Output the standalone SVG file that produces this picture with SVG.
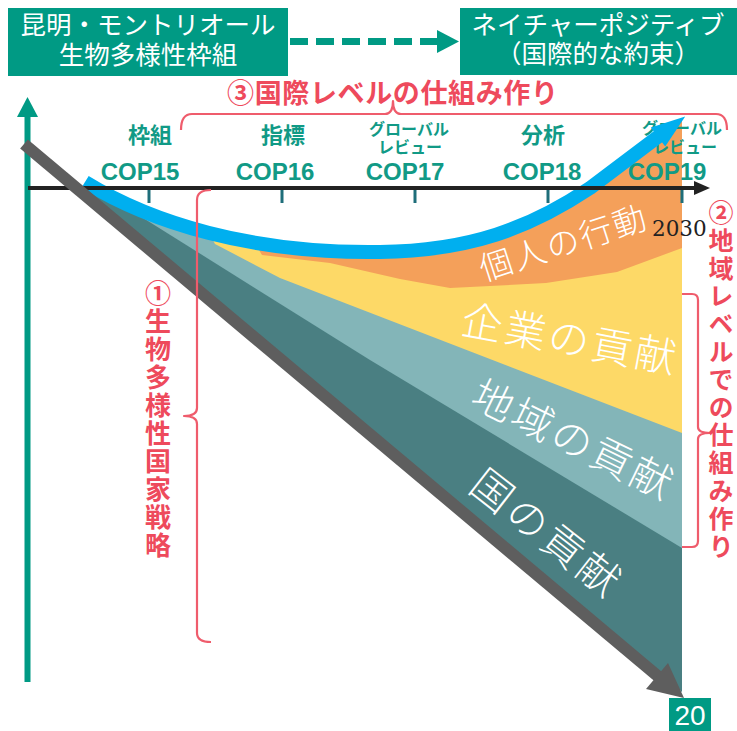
<svg xmlns="http://www.w3.org/2000/svg" width="737" height="731" viewBox="0 0 737 731">
<style>
.box{fill:#009A84}
.boxt{font-family:"Noto Sans CJK JP","Noto Sans",sans-serif;font-size:25.5px;fill:#fff;text-anchor:middle}
.lab{font-family:"Noto Sans CJK JP","Noto Sans",sans-serif;font-weight:700;fill:#119A86;text-anchor:middle}
.cop{font-family:"Liberation Sans","Noto Sans",sans-serif;font-weight:700;font-size:24px;fill:#119A86;text-anchor:middle}
.red{font-family:"Noto Sans CJK JP",sans-serif;font-weight:700;fill:#EE4A5C}
.brace{fill:none;stroke:#EF5C6C;stroke-width:2.2;stroke-linejoin:round}
.tick{stroke:#1F6E7A;stroke-width:3}
.band{font-family:"Noto Sans CJK JP",sans-serif;font-weight:300;fill:#fff;text-anchor:middle;dominant-baseline:central}
</style>
<defs>
<clipPath id="env">
<path d="M85,182 C150,222 250,254 380,252 C470,251 530,228 590,188 L660,135 L682,118 L682,692 L84,191 Z"/>
</clipPath>
</defs>

<g id="chart-areas" clip-path="url(#env)">
<rect x="0" y="0" width="737" height="731" fill="#4A7F82"/>
<polygon fill="#83B5B8" points="0,0 737,0 737,548 682,548 370,360 92,186 40,120"/>
<polygon fill="#FDD967" points="0,0 737,0 737,433 682,433 280,278 215,244 200,215 40,60"/>
<polygon fill="#F4A05A" points="0,0 737,0 737,248 682,248 617,272 546,283 450,288 400,279 330,263 262,255 250,235 40,40"/>
</g>

<g id="band-labels">
<text class="band" font-size="33" letter-spacing="2" transform="translate(563,241) rotate(-18)">個人の行動</text>
<text class="band" font-size="41" letter-spacing="3" transform="translate(571,336) rotate(10.6)">企業の貢献</text>
<text class="band" font-size="41" letter-spacing="3" transform="translate(575,437) rotate(26)">地域の貢献</text>
<text class="band" font-size="41" letter-spacing="4" transform="translate(549,531) rotate(38)">国の貢献</text>
</g>

<g id="top-left-box">
<rect class="box" x="8" y="8" width="280" height="68"/>
<text class="boxt" x="148" y="34">昆明・モントリオール</text>
<text class="boxt" x="148" y="64">生物多様性枠組</text>
</g>

<g id="top-right-box">
<rect class="box" x="460" y="8" width="277" height="67"/>
<text class="boxt" x="598" y="34">ネイチャーポジティブ</text>
<text class="boxt" x="598" y="63">（国際的な約束）</text>
</g>

<g id="connectors">
<line x1="290" y1="41.5" x2="437" y2="41.5" stroke="#009A84" stroke-width="7" stroke-dasharray="18 8"/>
<polygon fill="#009A84" points="437,30 459,41.5 437,53"/>
</g>

<g id="title">
<text class="red" x="227" y="103" font-size="27" textLength="331" lengthAdjust="spacing">③国際レベルの仕組み作り</text>
<path class="brace" d="M181,130 Q181,114 192,114 L385,114 Q393,114 393,101 Q393,114 401,114 L716,114 Q727,114 727,130"/>
</g>

<g id="milestones">
<text class="lab" x="150" y="143" font-size="22">枠組</text>
<text class="lab" x="283" y="143" font-size="22">指標</text>
<text class="lab" x="409" y="135" font-size="16">グローバル</text>
<text class="lab" x="410" y="153" font-size="16">レビュー</text>
<text class="lab" x="543" y="143" font-size="22">分析</text>
<text class="lab" x="682" y="134" font-size="16">グローバル</text>
<text class="lab" x="685" y="153" font-size="16">レビュー</text>
<text class="cop" x="140" y="180">COP15</text>
<text class="cop" x="275" y="180">COP16</text>
<text class="cop" x="405" y="180">COP17</text>
<text class="cop" x="542" y="180">COP18</text>
<text class="cop" x="667" y="180">COP19</text>
</g>

<g id="trend-arrow">
<path d="M85,182 C150,222 250,254 380,252 C470,251 530,228 590,188 L659,136" fill="none" stroke="#00AFEF" stroke-width="14"/>
<polygon fill="#00AFEF" points="665.2,146.6 685.2,116.5 650.8,127.4"/>
</g>

<g id="axes">
<line x1="27.5" y1="115" x2="27.5" y2="682" stroke="#009A84" stroke-width="6"/>
<polygon fill="#009A84" points="17,117 27.5,97 38,117"/>
<line x1="28" y1="188" x2="697" y2="188" stroke="#222" stroke-width="4"/>
<polygon fill="#222" points="694,181 710,188 694,195"/>
<line class="tick" x1="149" y1="190" x2="149" y2="203"/>
<line class="tick" x1="282" y1="190" x2="282" y2="203"/>
<line class="tick" x1="415" y1="190" x2="415" y2="203"/>
<line class="tick" x1="548" y1="190" x2="548" y2="203"/>
<line class="tick" x1="682" y1="190" x2="682" y2="203"/>
</g>

<g id="decline-arrow">
<line x1="24" y1="144" x2="660" y2="678" stroke="#5E5E5E" stroke-width="12"/>
<polygon fill="#5E5E5E" points="668,663 684,698 646,689"/>
</g>

<g id="year-2030">
<text x="652" y="236" font-family="DejaVu Serif,serif" font-size="21.5" fill="#222">2030</text>
</g>

<g id="national-strategy">
<path class="brace" d="M211,190 Q197,190 197,200 L197,408 Q197,416 184,416 Q197,416 197,424 L197,633 Q197,642 211,642"/>
<text class="red" x="158" y="280" font-size="26" letter-spacing="2" style="writing-mode:vertical-rl">①生物多様性国家戦略</text>
</g>

<g id="local-level">
<path class="brace" d="M682,294 L692,294 Q698,294 698,300 L698,427 Q698,433 710,433 Q698,433 698,439 L698,541 Q698,547 692,547 L682,547"/>
<text class="red" x="721" y="200" font-size="25" letter-spacing="2.8" style="writing-mode:vertical-rl">②地域レベルでの仕組み作り</text>
</g>

<g id="page-number">
<rect class="box" x="669" y="698" width="42" height="33"/>
<text x="690" y="725" font-family="Liberation Sans,sans-serif" font-size="28" fill="#fff" text-anchor="middle">20</text>
</g>
</svg>
